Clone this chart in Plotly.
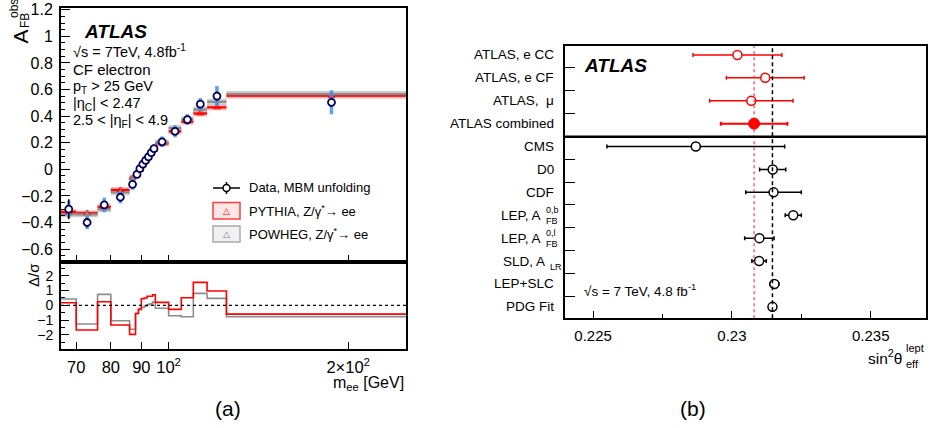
import math
import plotly.graph_objects as go

W, H = 934, 428
FONT = "Liberation Sans, Arial, Helvetica, sans-serif"


def px(x):
    return x / W


def py(y):
    return 1 - y / H


# ---------------- Panel (a) data ----------------
mass_edges = [66, 70, 76, 80, 86, 88, 89, 90, 91, 92, 93, 94, 95, 100, 105, 110, 116, 125, 250]
data_afb = [-0.30, -0.40, -0.268, -0.21, -0.113, -0.038, 0.005, 0.038, 0.067, 0.094,
            0.125, 0.155, 0.207, 0.286, 0.374, 0.49, 0.551, 0.504]
stat_err = [0.075, 0.035, 0.03, 0.03, 0.02, 0.012, 0.012, 0.012, 0.012, 0.012,
            0.012, 0.015, 0.02, 0.025, 0.025, 0.03, 0.035, 0.035]
tot_err = [0.065, 0.05, 0.055, 0.045, 0.04, 0.03, 0.025, 0.025, 0.025, 0.025,
           0.025, 0.03, 0.04, 0.045, 0.04, 0.045, 0.075, 0.09]
pythia_afb = [-0.32, -0.33, -0.282, -0.155, -0.065, -0.045, -0.005, 0.028, 0.058, 0.085,
              0.115, 0.145, 0.195, 0.285, 0.358, 0.42, 0.466, 0.553]
powheg_afb = [-0.338, -0.338, -0.30, -0.173, -0.07, -0.035, 0.008, 0.04, 0.068, 0.095,
              0.125, 0.152, 0.20, 0.31, 0.376, 0.45, 0.508, 0.566]
pythia_pull = [0.18, -1.67, 0.24, -1.33, -1.96, -0.55, -0.25, 0.45, 0.5, 0.62,
               0.62, 0.72, 0.2, -0.27, 0.51, 1.55, 0.97, -0.59]
powheg_pull = [0.43, -1.26, 0.74, -1.04, -1.62, -0.55, -0.3, -0.15, -0.05, 0.05,
               0.1, 0.22, -0.2, -0.7, -0.77, 0.81, 0.47, -0.77]
mass_tickvals = [70, 80, 90, 100, 200]
mass_ticktext = ["70", "80", "90", "10<sup>2</sup>", "2×10<sup>2</sup>"]

# ---------------- Panel (b) data ----------------
meas_labels = ["ATLAS, e CC", "ATLAS, e CF", "ATLAS,\u00a0\u00a0μ", "ATLAS combined", "CMS", "D0", "CDF",
               "LEP, A", "LEP, A", "SLD, A", "LEP+SLC", "PDG Fit"]
meas_sup = ["", "", "", "", "", "", "", "0,b", "0,l", "", "", ""]
meas_sub = ["", "", "", "", "", "", "", "FB", "FB", "LR", "", ""]
sin2_val = [0.2302, 0.2312, 0.2307, 0.2308, 0.2287, 0.23147, 0.2315, 0.23221, 0.23099,
            0.23098, 0.23153, 0.23146]
sin2_err = [0.0016, 0.0014, 0.0015, 0.0012, 0.0032, 0.00047, 0.0010, 0.00029, 0.00053,
            0.00026, 0.00016, 0.00012]
atlas_ref = 0.2308
pdg_ref = 0.23146
sin2_ticks = [0.225, 0.23, 0.235]

fig = go.Figure()

# ---- Panel (a) main ----
centers = [(lo + hi) / 2 for lo, hi in zip(mass_edges[:-1], mass_edges[1:])]


def steps(edges, vals):
    xs, ys = [], []
    for lo, hi, v in zip(edges[:-1], edges[1:], vals):
        xs += [lo, hi, None]
        ys += [v, v, None]
    return xs, ys


rx, ry = steps(mass_edges, pythia_afb)
gx, gy = steps(mass_edges, powheg_afb)
fig.add_trace(go.Scatter(x=rx, y=ry, mode="lines", line=dict(color="rgba(255,60,60,0.35)", width=6),
                         xaxis="x", yaxis="y", hoverinfo="skip"))
fig.add_trace(go.Scatter(x=gx, y=gy, mode="lines", line=dict(color="rgba(160,160,160,0.5)", width=6),
                         xaxis="x", yaxis="y", hoverinfo="skip"))
fig.add_trace(go.Scatter(x=rx, y=ry, mode="lines", line=dict(color="rgb(255,0,0)", width=2.2),
                         xaxis="x", yaxis="y"))
fig.add_trace(go.Scatter(x=gx, y=gy, mode="lines", line=dict(color="rgb(140,140,140)", width=2.2),
                         xaxis="x", yaxis="y"))
fig.add_trace(go.Scatter(x=centers, y=pythia_afb, mode="markers",
                         marker=dict(symbol="triangle-up-open", size=6, color="red", line=dict(width=1)),
                         xaxis="x", yaxis="y"))
fig.add_trace(go.Scatter(x=centers, y=powheg_afb, mode="markers",
                         marker=dict(symbol="triangle-up", size=6, color="rgb(140,140,140)"),
                         xaxis="x", yaxis="y"))
# total uncertainty (blue)
fig.add_trace(go.Scatter(x=centers, y=data_afb, mode="markers",
                         marker=dict(size=1, color="rgba(0,0,0,0)"),
                         error_y=dict(type="data", array=tot_err, thickness=3.5, width=0,
                                      color="rgba(70,140,235,0.85)"),
                         xaxis="x", yaxis="y"))
# data points with stat errors
fig.add_trace(go.Scatter(x=centers, y=data_afb, mode="markers",
                         marker=dict(symbol="circle", size=7, color="white",
                                     line=dict(color="rgb(0,0,90)", width=1.8)),
                         error_y=dict(type="data", array=stat_err, thickness=1.5, width=0, color="black"),
                         xaxis="x", yaxis="y"))

# ---- Panel (a) ratio ----
fig.add_trace(go.Scatter(x=mass_edges, y=powheg_pull + [powheg_pull[-1]], mode="lines", line_shape="hv",
                         line=dict(color="rgb(140,140,140)", width=1.6), xaxis="x2", yaxis="y2"))
fig.add_trace(go.Scatter(x=mass_edges, y=pythia_pull + [pythia_pull[-1]], mode="lines", line_shape="hv",
                         line=dict(color="rgb(255,0,0)", width=1.6), xaxis="x2", yaxis="y2"))

# ---- Panel (b) ----
rows = list(range(len(meas_labels)))
open_red = [0, 1, 2]
fig.add_trace(go.Scatter(x=[sin2_val[i] for i in open_red], y=[rows[i] for i in open_red], mode="markers",
                         marker=dict(symbol="circle", size=9, color="white", line=dict(color="red", width=1.5)),
                         error_x=dict(type="data", array=[sin2_err[i] for i in open_red], thickness=1.5,
                                      width=2, color="red"),
                         xaxis="x3", yaxis="y3"))
fig.add_trace(go.Scatter(x=[sin2_val[3]], y=[rows[3]], mode="markers",
                         marker=dict(symbol="circle", size=11, color="red", line=dict(color="red", width=1)),
                         error_x=dict(type="data", array=[sin2_err[3]], thickness=2, width=2, color="red"),
                         xaxis="x3", yaxis="y3"))
black_rows = list(range(4, len(meas_labels)))
fig.add_trace(go.Scatter(x=[sin2_val[i] for i in black_rows], y=[rows[i] for i in black_rows], mode="markers",
                         marker=dict(symbol="circle", size=9, color="white", line=dict(color="black", width=1.5)),
                         error_x=dict(type="data", array=[sin2_err[i] for i in black_rows], thickness=1.5,
                                      width=2, color="black"),
                         xaxis="x3", yaxis="y3"))

axis_common = dict(showline=True, linecolor="black", linewidth=2, mirror=True, showgrid=False,
                   zeroline=False, ticks="inside", tickcolor="black", tickwidth=1.2, automargin=False)

log_range = [math.log10(mass_edges[0]), math.log10(mass_edges[-1])]

fig.update_layout(
    width=W, height=H, autosize=False,
    margin=dict(l=0, r=0, t=0, b=0, pad=0),
    paper_bgcolor="white", plot_bgcolor="white",
    showlegend=False,
    font=dict(family=FONT, color="black"),
    xaxis=dict(domain=[px(61), px(406)], anchor="y", type="log", range=log_range,
               tickvals=mass_tickvals, showticklabels=False, ticklen=7, **axis_common),
    yaxis=dict(domain=[py(262), py(8)], anchor="x", range=[-0.697, 1.213], tick0=0, dtick=0.2,
               ticklen=9, tickfont=dict(size=16), ticklabelstandoff=3,
               minor=dict(dtick=0.05, tick0=0, ticklen=4, ticks="inside", tickcolor="black"),
               **axis_common),
    xaxis2=dict(domain=[px(61), px(406)], anchor="y2", type="log", range=log_range,
                tickvals=mass_tickvals, ticktext=mass_ticktext, ticklen=7, tickfont=dict(size=16.5),
                ticklabelstandoff=2, **axis_common),
    yaxis2=dict(domain=[py(349), py(262)], anchor="x2", range=[-2.95, 2.93], tick0=0, dtick=1,
                ticklen=8, tickfont=dict(size=14), ticklabelstandoff=3,
                minor=dict(dtick=0.5, tick0=0, ticklen=4, ticks="inside", tickcolor="black"),
                **axis_common),
    xaxis3=dict(domain=[px(565), px(926)], anchor="y3", range=[0.22399, 0.23699],
                tickvals=sin2_ticks, ticktext=["0.225", "0.23", "0.235"], ticklen=7,
                tickfont=dict(size=15), ticklabelstandoff=3,
                minor=dict(dtick=0.0025, tick0=0.225, ticklen=4, ticks="inside", tickcolor="black"),
                **axis_common),
    yaxis3=dict(domain=[py(318.3), py(46)], anchor="x3", range=[11.5, -0.39],
                tickvals=[i + 0.55 for i in range(11) if i != 3], showticklabels=False, ticklen=10,
                **axis_common),
)

shapes = []
# zero line in ratio
shapes.append(dict(type="line", xref="x2 domain", yref="y2", x0=0, x1=1, y0=0, y1=0,
                   line=dict(color="black", width=1.3, dash="3px,3px")))
# reference lines in panel b
shapes.append(dict(type="line", xref="x3", yref="y3 domain", x0=atlas_ref, x1=atlas_ref, y0=0, y1=1,
                   line=dict(color="rgba(255,40,40,0.9)", width=1.2, dash="dot")))
shapes.append(dict(type="line", xref="x3", yref="y3 domain", x0=pdg_ref, x1=pdg_ref, y0=0, y1=1,
                   line=dict(color="black", width=1.5, dash="4px,3px")))
# separator between ATLAS and other measurements
shapes.append(dict(type="line", xref="x3 domain", yref="y3", x0=0, x1=1, y0=3.57, y1=3.57,
                   line=dict(color="black", width=2.5)))

# manual legend in panel a
shapes.append(dict(type="line", xref="paper", yref="paper", x0=px(213), x1=px(240), y0=py(188), y1=py(188),
                   line=dict(color="black", width=1.5)))
shapes.append(dict(type="line", xref="paper", yref="paper", x0=px(226.5), x1=px(226.5), y0=py(182), y1=py(194),
                   line=dict(color="black", width=1.5)))
shapes.append(dict(type="circle", xref="paper", yref="paper", x0=px(223), x1=px(230), y0=py(191.5),
                   y1=py(184.5), fillcolor="white", line=dict(color="black", width=1.5)))
shapes.append(dict(type="rect", xref="paper", yref="paper", x0=px(213), x1=px(240), y0=py(219), y1=py(202.5),
                   fillcolor="rgba(255,120,120,0.18)", line=dict(color="rgb(255,60,60)", width=1.5)))
shapes.append(dict(type="rect", xref="paper", yref="paper", x0=px(213), x1=px(240), y0=py(242), y1=py(226),
                   fillcolor="rgba(180,180,180,0.2)", line=dict(color="rgb(170,170,170)", width=1.5)))
fig.update_layout(shapes=shapes)

ann = []


def text(x, y, s, size, xanchor="left", yanchor="middle", color="black", angle=0, xref="paper", yref="paper",
         yshift=0):
    if not s:
        return
    ann.append(dict(x=x, y=y, xref=xref, yref=yref, text=s, showarrow=False, xanchor=xanchor, yanchor=yanchor,
                    font=dict(size=size, color=color, family=FONT), textangle=angle, yshift=yshift))


# Panel a texts
text(px(82), py(31.5), "<b><i>ATLAS</i></b>", 19)
text(px(71), py(51), "√s = 7TeV, 4.8fb<sup>-1</sup>", 14.5)
text(px(71), py(69), "CF electron", 15)
text(px(71), py(87), "p<sub>T</sub> > 25 GeV", 14.5)
text(px(71), py(104), "|η<sub>C</sub>| < 2.47", 14.5)
text(px(71), py(121), "2.5 < |η<sub>F</sub>| < 4.9", 14.5)
text(px(247), py(188), "Data, MBM unfolding", 13)
text(px(247), py(211), "PYTHIA, Z/γ<sup>*</sup>→ ee", 13)
text(px(247), py(234), "POWHEG, Z/γ<sup>*</sup>→ ee", 13)
text(px(226.5), py(211), "△", 9, xanchor="center", color="red")
text(px(226.5), py(234), "△", 9, xanchor="center", color="rgb(120,120,120)")
# y titles
text(px(20), py(36.5), "A", 21, xanchor="center", angle=-90)
text(px(25), py(21), "FB", 12, xanchor="center", angle=-90)
text(px(14.5), py(8.5), "obs", 12, xanchor="center", angle=-90)
text(px(33), py(275), "Δ/σ", 15, xanchor="center", angle=-90)
# x title
text(px(406), py(383), "m<sub>ee</sub> [GeV]", 16, xanchor="right")
text(px(228), py(408), "(a)", 21, xanchor="center")

# Panel b texts
text(px(582), py(66), "<b><i>ATLAS</i></b>", 19)
text(px(582), py(290), "√s = 7 TeV, 4.8 fb<sup>-1</sup>", 13.5)
for i, lab in enumerate(meas_labels):
    if meas_sup[i] or meas_sub[i]:
        right = 543 if meas_sup[i] else 547
        text(px(right), rows[i], lab, 13.5, xanchor="right", yref="y3")
        text(px(543.5), rows[i], meas_sup[i], 9, xanchor="left", yref="y3", yshift=5)
        text(px(right + 0.5), rows[i], meas_sub[i], 9, xanchor="left", yref="y3", yshift=-6)
    else:
        text(px(556), rows[i], lab, 13.5, xanchor="right", yref="y3")
text(px(903.5), py(356.5), "sin<sup>2</sup>θ", 15.5, xanchor="right")
text(px(904), py(348), "lept", 11, xanchor="left")
text(px(904), py(364), "eff", 11, xanchor="left")
text(px(693), py(408), "(b)", 21, xanchor="center")

fig.update_layout(annotations=ann)
fig.write_html("out.html", config={"displayModeBar": False},
               post_script="document.body.style.margin='0px';document.body.style.overflow='hidden';")
